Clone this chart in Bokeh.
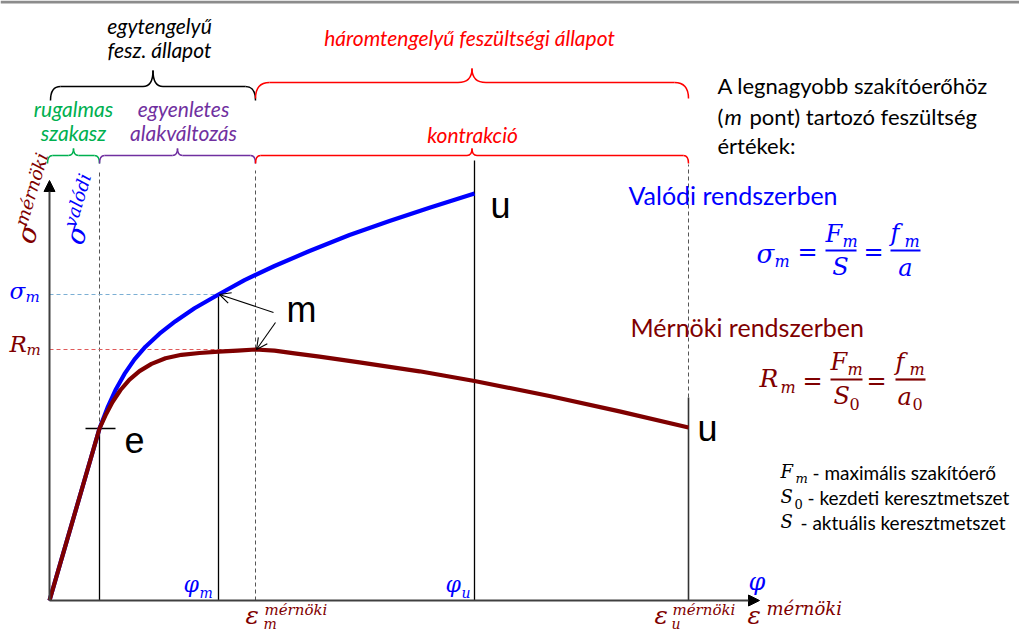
import math
from bokeh.plotting import figure
from bokeh.models import Range1d, Arrow, NormalHead, OpenHead, BoxAnnotation
from bokeh.core.properties import value
from bokeh.embed import file_html
from bokeh.resources import INLINE

# ---- data: strain (x) and stress (y) in diagram units --------------------
# engineering (mérnöki) curve
eng_strain = [0.0, 5.0, 5.6, 6.3, 7.1, 8.0, 9.0, 10.2, 11.6, 13.2, 15.0, 16.9, 18.8,
              20.6, 22.5, 24.5, 27.0, 31.0, 37.0, 42.5, 50.0, 57.0, 63.9]
eng_stress = [0.0, 17.2, 18.52, 19.85, 21.05, 22.09, 22.94, 23.66, 24.22, 24.57, 24.75,
              24.88, 24.99, 25.1, 24.98, 24.72, 24.38, 23.82, 22.92, 21.95, 20.45, 18.91,
              17.3]
# true (valódi) curve
true_strain = [0.0, 5.0, 5.8, 6.6, 7.5, 8.5, 9.6, 11.0, 12.6, 14.5, 16.9, 19.5, 22.5,
               26.0, 30.0, 34.0, 38.0, 42.5]
true_stress = [0.0, 17.2, 19.28, 21.04, 22.66, 24.11, 25.38, 26.68, 27.93, 29.22, 30.6,
               32.04, 33.45, 34.95, 36.55, 37.95, 39.27, 40.7]

# characteristic points
eps_e, sig_e = 5.0, 17.2        # end of elastic range (e)
phi_m, sig_m = 16.9, 30.6       # m on the true curve
eps_m, R_m = 20.6, 25.1         # m on the engineering curve
phi_u, sig_u = 42.5, 40.7       # u on the true curve
eps_u, R_u = 63.9, 17.3         # u on the engineering curve

BLUE = "#0000FF"
DRED = "#7F0000"
RED = "#FF0000"
GREEN = "#00B050"
PURPLE = "#7030A0"
AXIS = "#404040"

TXT = "Lato"
MATH = "DejaVu Serif"
BIG = "Liberation Sans"

W, H = 1019, 631
OX, OY, K = 49, 600, 10.0   # screen origin of the axes and px per unit


def X(px):
    return (px - OX) / K


def Y(py):
    return (OY - py) / K


p = figure(width=W, height=H, x_range=Range1d(X(0), X(W)), y_range=Range1d(Y(H), Y(0)),
           x_axis_type=None, y_axis_type=None, toolbar_location=None,
           output_backend="svg", min_border=0, outline_line_color=None)
p.grid.visible = False
p.background_fill_color = "white"
p.border_fill_color = "white"

# slide header strip
p.add_layout(BoxAnnotation(bottom=Y(3), fill_color="#8C8C8C", fill_alpha=1.0, line_alpha=0))


def t(x, y, s, size, color, font=TXT, style="normal", align="left",
      baseline="middle", angle=0.0):
    p.text(x=[x], y=[y], text=[s], text_font=value(font), text_font_size=f"{size}px",
           text_font_style=style, text_color=color, text_align=align,
           text_baseline=baseline, angle=angle)


def m(px, py, s, size, color, style="italic", align="left"):
    """math glyph placed by its visual centre line (screen px)"""
    t(X(px), Y(py), s, size, color, font=MATH, style=style, align=align)


def seg(x0, y0, x1, y1, color="black", width=1.3, dash="solid"):
    p.segment(x0=[x0], y0=[y0], x1=[x1], y1=[y1], line_color=color,
              line_width=width, line_dash=dash)


def brace(x0, x1, yl, ye, yt, r, color, width=1.5):
    xm = (x0 + x1) / 2
    p.quadratic(x0=[x0, xm - r, xm + r, x1], y0=[ye, yl, yl, ye],
                x1=[x0 + r, xm, xm, x1 - r], y1=[yl, yt, yt, yl],
                cx=[x0, xm, xm, x1], cy=[yl, yl, yl, yl],
                line_color=color, line_width=width)
    p.segment(x0=[x0 + r, xm + r], y0=[yl, yl], x1=[xm - r, x1 - r], y1=[yl, yl],
              line_color=color, line_width=width)


# ---- guide lines --------------------------------------------------------
DASH = "4 3"
seg(eps_e, 0, eps_e, sig_e)
seg(eps_e, sig_e, eps_e, Y(172), "#555555", 1, DASH)
seg(eps_e - 1.4, sig_e, eps_e + 1.6, sig_e)
seg(phi_m, 0, phi_m, sig_m)
seg(eps_m, 0, eps_m, Y(170), "#555555", 1, DASH)
seg(phi_u, 0, phi_u, Y(160))
seg(eps_u, 0, eps_u, R_u + 3.0, "#333333", 1.6)
seg(eps_u, R_u + 3.0, eps_u, Y(164), "#555555", 1, DASH)
seg(0, sig_m, phi_m, sig_m, "#7BAFD4", 1.2, DASH)
seg(0, R_m, eps_m, R_m, "#E05A5A", 1.2, DASH)

# ---- curves -------------------------------------------------------------
p.line(true_strain, true_stress, line_color=BLUE, line_width=4.2, line_join="round")
p.line(eng_strain, eng_stress, line_color=DRED, line_width=4.2, line_join="round")

# ---- axes ---------------------------------------------------------------
p.add_layout(Arrow(end=NormalHead(size=11, fill_color="black", line_color="black"),
                   x_start=0, y_start=0, x_end=0, y_end=Y(180),
                   line_color=AXIS, line_width=2))
p.add_layout(Arrow(end=NormalHead(size=11, fill_color="black", line_color="black"),
                   x_start=0, y_start=0, x_end=X(759), y_end=0,
                   line_color=AXIS, line_width=2))

# pointers to the m points
p.add_layout(Arrow(end=OpenHead(size=11, line_width=1.1), x_start=X(273), y_start=Y(312),
                   x_end=phi_m + 0.1, y_end=sig_m, line_width=1.1))
p.add_layout(Arrow(end=OpenHead(size=11, line_width=1.1), x_start=X(275), y_start=Y(322),
                   x_end=eps_m + 0.1, y_end=R_m, line_width=1.1))

# ---- braces -------------------------------------------------------------
brace(0.1, eps_m, Y(86), Y(100), Y(70), 1.0, "black")
brace(eps_m, eps_u, Y(82), Y(98), Y(68), 1.4, RED)
brace(-0.2, eps_e, Y(155), Y(163), Y(148), 0.5, GREEN)
brace(eps_e, eps_m, Y(155), Y(163), Y(148), 0.5, PURPLE)
brace(eps_m, eps_u, Y(155), Y(163), Y(148), 0.5, RED)

t(X(159), Y(25), "egytengelyű", 21, "black", style="italic", align="center")
t(X(159), Y(49), "fesz. állapot", 21, "black", style="italic", align="center")
t(X(469), Y(37), "háromtengelyű feszültségi állapot", 21, RED, style="italic",
  align="center")
t(X(73), Y(108), "rugalmas", 21, GREEN, style="italic", align="center")
t(X(73), Y(132), "szakasz", 21, GREEN, style="italic", align="center")
t(X(183), Y(108), "egyenletes", 21, PURPLE, style="italic", align="center")
t(X(183), Y(132), "alakváltozás", 21, PURPLE, style="italic", align="center")
t(X(472), Y(134), "kontrakció", 21, RED, style="italic", align="center")

# ---- point labels -------------------------------------------------------
t(phi_u + 1.6, sig_u - 1.2, "u", 36, "black", font=BIG)
t(eps_u + 0.9, R_u - 0.1, "u", 36, "black", font=BIG)
t(eps_e + 2.5, sig_e - 1.1, "e", 36, "black", font=BIG)
t(X(286), Y(309), "m", 36, "black", font=BIG)

# ---- axis symbols -------------------------------------------------------
# vertical axis titles (slanted)
th = math.radians(73)
def slanted(x0, y0, sup, color):
    c, s = math.cos(th), math.sin(th)
    t(x0, y0, "σ", 27, color, font=MATH, style="italic", baseline="alphabetic", angle=th)
    adv, rise = 1.5, 0.9
    t(x0 + adv * c - rise * s, y0 + adv * s + rise * c, sup, 18, color, font=MATH,
      style="italic", baseline="alphabetic", angle=th)

slanted(X(24), Y(242), "mérnöki", DRED)
slanted(X(73), Y(243), "valódi", BLUE)

# stress marks on the vertical axis
m(9, 290, "σ", 23, BLUE)
m(25, 296, "m", 15, BLUE)
m(9, 343, "R", 23, DRED)
m(26, 349, "m", 15, DRED)

# strain marks on the horizontal axis
m(183, 584, "φ", 22, BLUE)
m(199, 592, "m", 14, BLUE)
m(445, 584, "φ", 22, BLUE)
m(461, 592, "u", 14, BLUE)
m(748, 581, "φ", 24, BLUE)

m(245, 615, "ε", 25, DRED)
m(264, 609, "mérnöki", 15, DRED)
m(263, 623, "m", 14, DRED)
m(654, 615, "ε", 25, DRED)
m(672, 609, "mérnöki", 15, DRED)
m(671, 623, "u", 14, DRED)
m(747, 615, "ε", 25, DRED)
m(766, 608, "mérnöki", 18, DRED)

# ---- explanatory text ---------------------------------------------------
t(X(717), Y(85), "A legnagyobb szakítóerőhöz", 22, "black")
t(X(717), Y(116), "(", 22, "black")
t(X(724), Y(116), "m", 22, "black", style="italic")
t(X(749), Y(116), "pont) tartozó feszültség", 22, "black")
t(X(717), Y(145), "értékek:", 22, "black")

t(X(628), Y(194), "Valódi rendszerben", 25, BLUE)
t(X(630), Y(326), "Mérnöki rendszerben", 25, DRED)


def frac_bar(x0, x1, y, color):
    seg(X(x0), Y(y), X(x1), Y(y), color, 2.2)


# σm = Fm/S = fm/a
m(756, 253, "σ", 26, BLUE)
m(774, 261, "m", 16, BLUE)
m(807, 251, "=", 24, BLUE, style="normal", align="center")
m(825, 233, "F", 24, BLUE)
m(842, 241, "m", 16, BLUE)
frac_bar(825, 856, 250, BLUE)
m(840, 266, "S", 24, BLUE, align="center")
m(873, 251, "=", 24, BLUE, style="normal", align="center")
m(890, 232, "f", 24, BLUE)
m(904, 241, "m", 16, BLUE)
frac_bar(890, 920, 250, BLUE)
m(905, 267, "a", 24, BLUE, align="center")

# Rm = Fm/S0 = fm/a0
m(759, 378, "R", 25, DRED)
m(780, 387, "m", 16, DRED)
m(812, 380, "=", 24, DRED, style="normal", align="center")
m(830, 361, "F", 24, DRED)
m(847, 369, "m", 16, DRED)
frac_bar(830, 862, 379, DRED)
m(833, 395, "S", 24, DRED)
m(849, 403, "0", 16, DRED, style="normal")
m(876, 380, "=", 24, DRED, style="normal", align="center")
m(895, 361, "f", 24, DRED)
m(909, 369, "m", 16, DRED)
frac_bar(895, 925, 379, DRED)
m(897, 396, "a", 24, DRED)
m(912, 403, "0", 16, DRED, style="normal")

# symbol legend
m(780, 471, "F", 18, "black")
m(795, 478, "m", 13, "black")
t(X(812), Y(472), "- maximális szakítóerő", 19, "black")
m(780, 496, "S", 18, "black")
m(794, 503, "0", 13, "black", style="normal")
t(X(807), Y(497), "- kezdeti keresztmetszet", 19, "black")
m(780, 521, "S", 18, "black")
t(X(800), Y(522), "- aktuális keresztmetszet", 19, "black")

open("out.html", "w").write(file_html(p, INLINE))
